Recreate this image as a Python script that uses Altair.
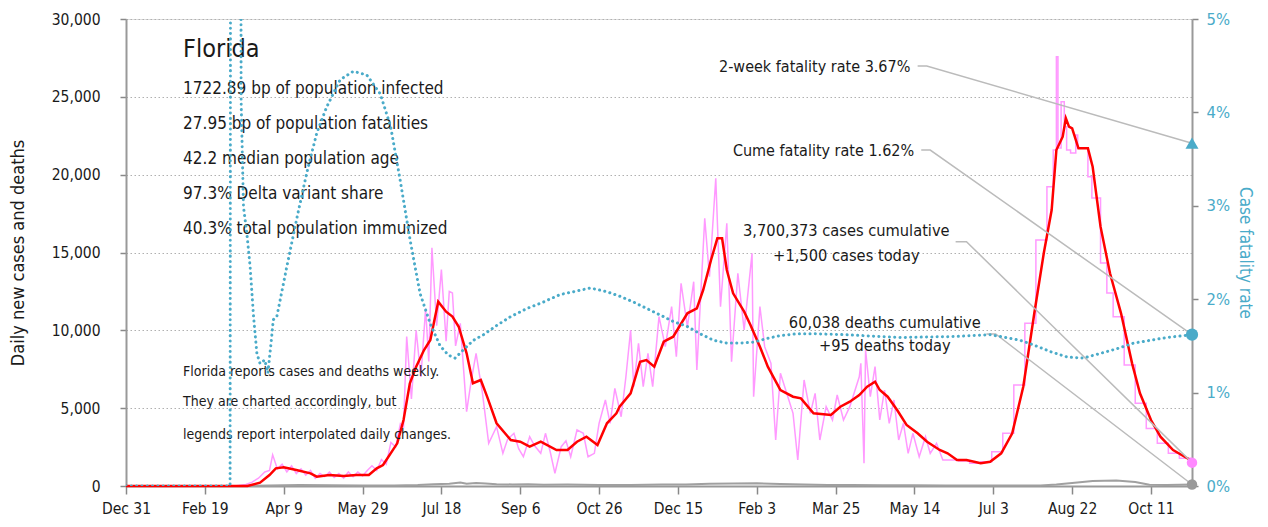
import altair as alt
import pandas as pd

BASE = pd.Timestamp("2019-12-31")
FONT = "'DejaVu Sans Condensed', 'DejaVu Sans', sans-serif"
PINK = "#ff99ff"
RED = "#ff0000"
GRAY = "#a0a0a0"
CYAN = "#4aabc9"

# ---- x axis ticks (every 50 days) ----
tick_dates = [(2019, 12, 31), (2020, 2, 19), (2020, 4, 9), (2020, 5, 29), (2020, 7, 18),
              (2020, 9, 6), (2020, 10, 26), (2020, 12, 15), (2021, 2, 3), (2021, 3, 25),
              (2021, 5, 14), (2021, 7, 3), (2021, 8, 22), (2021, 10, 11)]
end_date = (2021, 11, 6)
END_DAY = 676

# ---- 7-day average new cases (day offset from Dec 31 2019, value) ----
red_day = [0, 61, 77, 85, 91, 95, 100, 108, 117, 121, 129, 138, 146, 154, 159, 163, 172, 176, 180, 184,
           189, 193, 198, 203, 207, 211, 216, 220, 225, 229, 235, 244, 250, 256, 263, 273, 280, 286, 292, 299,
           305, 311, 313, 320, 326, 330, 335, 341, 347, 356, 362, 366, 371, 375, 378, 381, 385, 392, 396, 402,
           407, 415, 423, 428, 436, 447, 453, 459, 465, 470, 475, 478, 483, 489, 495, 502, 508, 516, 521, 527,
           533, 542, 548, 555, 562, 569, 576, 582, 587, 590, 594, 596, 598, 600, 604, 610, 613, 618, 624, 631,
           638, 643, 650, 656, 664, 673, 676]
red_val = [0, 0, 0, 212, 706, 1135, 1200, 1028, 814, 600, 706, 640, 706, 706, 1135, 1350, 2740, 4240, 6600, 7665,
           8737, 9380, 11840, 11200, 10880, 10230, 8525, 6600, 6810, 5740, 4030, 2955, 2846, 2525, 2846, 2313, 2313, 2846, 3167, 2634,
           4028, 4670, 5095, 5955, 7985, 8094, 7665, 9270, 9590, 11094, 11415, 12590, 14518, 15910, 15910, 13875, 12380, 11197, 10342, 8950,
           7665, 6167, 5737, 5630, 4670, 4560, 5095, 5415, 5845, 6380, 6700, 6167, 5737, 4880, 3920, 3385, 2846, 2313, 2100, 1670,
           1670, 1460, 1560, 2100, 3385, 6380, 11094, 14950, 17730, 21585, 22440, 23620, 23080, 22980, 21690, 21690, 20510, 16660, 13665, 11094,
           7880, 5955, 4240, 3167, 2313, 1780, 1600]

# ---- daily new cases, daily reporting period ----
pink_daily = [(0, 0), (61, 0), (70, 20), (76, 100), (80, 250), (84, 500), (88, 900), (91, 1000), (93, 2000), (96, 1100),
              (99, 1400), (102, 900), (105, 1300), (108, 800), (111, 1100), (114, 700), (117, 1000), (120, 500), (123, 800),
              (126, 600), (129, 900), (132, 550), (135, 800), (138, 500), (141, 900), (144, 600), (147, 900), (150, 650),
              (153, 1000), (156, 1300), (159, 1000), (162, 1700), (165, 1400), (168, 2800), (171, 2500), (174, 4000),
              (176, 3800), (178, 9600), (181, 5600), (184, 10000), (187, 7000), (190, 11400), (192, 8000), (194, 15300),
              (197, 10300), (200, 13900), (203, 9300), (205, 12500), (207, 12400), (209, 9000), (212, 10450), (216, 4775),
              (219, 6810), (222, 8525), (226, 6000), (230, 2740), (235, 3810), (239, 2100), (242, 3000), (246, 3385),
              (249, 2400), (252, 1880), (256, 3167), (259, 2600), (263, 2100), (266, 3385), (269, 2200), (272, 816),
              (276, 2525), (279, 2900), (282, 1880), (286, 3600), (290, 3385), (293, 1880), (297, 2100), (300, 4028),
              (304, 5525), (307, 4028), (310, 6275), (314, 4450), (317, 7000), (320, 10020), (322, 6380), (325, 9165),
              (328, 6380), (331, 8525), (334, 6380), (338, 10880), (342, 8950), (346, 11520), (349, 8300), (352, 13020),
              (356, 10230), (360, 13125), (362, 7450), (367, 17200), (370, 13445), (374, 19770), (377, 11520), (381, 16875),
              (384, 7985), (388, 13665), (392, 10020), (397, 14950), (398, 5737), (402, 11520), (405, 8950), (409, 7880),
              (412, 2955), (415, 7240), (419, 5955), (423, 4670), (426, 1670), (430, 6810), (434, 4670), (437, 5955),
              (440, 2955), (444, 5095), (448, 4240), (451, 5845), (455, 4240), (459, 5095), (465, 7020), (466, 7880),
              (468, 1460), (469, 8737), (472, 5737), (475, 7665), (478, 4240), (481, 6167), (484, 4028), (487, 5525),
              (490, 2955), (493, 4028), (496, 2100), (499, 3385), (503, 1880), (507, 3167), (510, 2100), (514, 2740),
              (518, 1670), (520, 1670)]

# ---- daily new cases, weekly reporting period (steps) ----
pink_weekly = [(520, 1670), (528, 1600), (535, 1460), (542, 1560), (549, 2200), (556, 3385), (563, 6490),
               (570, 10450), (577, 15800), (584, 19230), (588, 21585), (590, 27580), (591, 21710), (593, 24690),
               (595, 23080), (596.5, 21585), (599, 21390), (602.3, 22550), (603.5, 21710), (610, 19870),
               (612.5, 18500), (618, 14325), (622, 12400), (626, 10880), (633, 7773), (640, 5310), (647, 3700),
               (654, 2740), (661, 2100), (668, 1780), (675, 1500), (676, 1500)]

# ---- daily deaths ----
deaths = [(0, 0), (70, 0), (90, 30), (110, 60), (130, 45), (150, 40), (170, 40), (185, 70), (195, 120), (205, 150),
          (212, 230), (216, 140), (222, 200), (228, 160), (235, 120), (245, 100), (255, 110), (265, 80), (280, 90),
          (300, 60), (320, 70), (340, 90), (355, 100), (370, 140), (385, 160), (400, 170), (415, 130), (430, 100),
          (445, 70), (460, 60), (480, 55), (500, 45), (520, 40), (540, 35), (560, 40), (580, 40), (590, 90),
          (600, 190), (613, 320), (628, 360), (640, 250), (649, 80), (660, 70), (676, 95)]

# ---- case fatality rate, percent ----
cfr = [(0, 0), (66, 0), (67, 20), (72, 20), (73, 4.13), (74.5, 2.99), (76.6, 2.71), (78.7, 2.35), (80.9, 1.81),
       (83, 1.42), (85, 1.31), (88, 1.35), (90, 1.21), (92.4, 1.60), (93.4, 1.78), (95.6, 1.81), (102, 2.35),
       (108.5, 2.88), (114.6, 3.35), (121, 3.78), (127.3, 4.06), (135.8, 4.35), (144.2, 4.44), (152.7, 4.40),
       (161.2, 4.20), (167.8, 3.85), (173.8, 3.28), (180.2, 2.63), (186.5, 2.06), (192.9, 1.74), (199.2, 1.50),
       (204.5, 1.40), (208.7, 1.37), (214, 1.46), (220.3, 1.56), (226.7, 1.62), (235.2, 1.72), (243.6, 1.81),
       (254.2, 1.90), (264.7, 1.97), (275.3, 2.05), (283.8, 2.08), (294.4, 2.12), (305, 2.08), (313.4, 2.03),
       (321.8, 1.97), (330.3, 1.90), (338.8, 1.83), (347.2, 1.76), (355.7, 1.71), (364.1, 1.63), (372.6, 1.56),
       (381.1, 1.53), (389.5, 1.53), (398, 1.54), (406.5, 1.58), (414.9, 1.61), (425.5, 1.63), (436, 1.63),
       (456, 1.62), (490, 1.59), (525, 1.60), (548, 1.62), (554.5, 1.60), (567, 1.56), (575.6, 1.51), (586, 1.44),
       (597, 1.38), (607, 1.37), (618, 1.42), (628.5, 1.47), (639, 1.53), (649.6, 1.56), (660, 1.59), (676, 1.62)]

# ---- latest values ----
cases_today = 1500
deaths_today = 95
cfr_two_week = 3.67
cfr_cume = 1.62

# ---- text ----
state_name = "Florida"
info_lines = ["1722.89 bp of population infected", "27.95 bp of population fatalities",
              "42.2 median population age", "97.3% Delta variant share", "40.3% total population immunized"]
info_y = [25484, 23255, 20987, 18758, 16490]
note_lines = ["Florida reports cases and deaths weekly.", "They are charted accordingly, but",
              "legends report interpolated daily changes."]
note_y = [7343, 5377, 3276]
text_day = 36.2

rate_labels = ["2-week fatality rate 3.67%", "Cume fatality rate 1.62%"]
rate_label_day = [497.4, 499.8]
rate_label_y = [4.489, 3.587]
count_labels = ["3,700,373 cases cumulative", "+1,500 cases today", "60,038 deaths cumulative", "+95 deaths today"]
count_label_day = [456.8, 456.8, 481.2, 481.2]
count_label_y = [16401, 14775, 10490, 8994]
# connectors: (id, day, y)
rate_conn = [(1, 502, 4.497), (1, 507.8, 4.497), (1, END_DAY, cfr_two_week),
             (2, 504.3, 3.597), (2, 510, 3.597), (2, END_DAY, cfr_cume)]
count_conn = [(3, 526.1, 15694), (3, 533, 15694), (3, END_DAY, cases_today),
              (4, 545.6, 9764), (4, 551.5, 9764), (4, END_DAY, deaths_today)]


def ds(days):
    return [(BASE + pd.Timedelta(days=float(d))).strftime("%Y-%m-%dT%H:%M:%S") for d in days]


def frame(pairs):
    return pd.DataFrame({"date": ds([p[0] for p in pairs]), "v": [p[1] for p in pairs]})


red_df = pd.DataFrame({"date": ds(red_day), "v": red_val})
pink_d_df = frame(pink_daily)
pink_w_df = frame(pink_weekly)
death_df = frame(deaths)
cfr_df = pd.DataFrame({"date": ds([p[0] for p in cfr]), "r": [p[1] for p in cfr]})

end_left = pd.DataFrame({"date": ds([END_DAY, END_DAY]), "v": [cases_today, deaths_today], "k": ["c", "d"]})
end_right = pd.DataFrame({"date": ds([END_DAY, END_DAY]), "r": [cfr_two_week, cfr_cume], "k": ["t", "c"]})

info_df = pd.DataFrame({"date": ds([text_day] * 6), "v": [28073] + info_y,
                        "t": [state_name] + info_lines, "fs": [25] + [17] * 5})
note_df = pd.DataFrame({"date": ds([text_day] * 3), "v": note_y, "t": note_lines})
rate_lab_df = pd.DataFrame({"date": ds(rate_label_day), "r": rate_label_y, "t": rate_labels})
count_lab_df = pd.DataFrame({"date": ds(count_label_day), "v": count_label_y, "t": count_labels})
rate_conn_df = pd.DataFrame({"id": [c[0] for c in rate_conn], "o": list(range(len(rate_conn))),
                             "date": ds([c[1] for c in rate_conn]), "r": [c[2] for c in rate_conn]})
count_conn_df = pd.DataFrame({"id": [c[0] for c in count_conn], "o": list(range(len(count_conn))),
                              "date": ds([c[1] for c in count_conn]), "v": [c[2] for c in count_conn]})

# ---- encodings ----
x_axis = alt.Axis(values=[alt.DateTime(year=y, month=m, date=d) for (y, m, d) in tick_dates],
                  format="%b %-d", labelFont=FONT, labelFontSize=15.5, labelColor="#1a1a1a",
                  tickSize=8, tickColor="#888888", tickWidth=1.5, domainColor="#999999", domainWidth=2,
                  grid=False, title=None, labelPadding=7, labelOverlap=False, labelFlush=False)
X = alt.X("date:T",
          scale=alt.Scale(domain=[alt.DateTime(year=2019, month=12, date=31),
                                  alt.DateTime(year=end_date[0], month=end_date[1], date=end_date[2])]),
          axis=x_axis)

left_axis = alt.Axis(values=list(range(0, 30001, 5000)), labelExpr="format(datum.value, ',')",
                     labelFont=FONT, labelFontSize=15.5,
                     labelColor="#1a1a1a", tickSize=6, tickColor="#888888", tickWidth=1.5, labelPadding=20,
                     domainColor="#999999", domainWidth=2, grid=True, gridDash=[1.5, 2.5], gridColor="#b0b0b0",
                     gridWidth=1, title="Daily new cases and deaths", titleFont=FONT, titleFontSize=18,
                     titleFontWeight="normal", titleColor="#1a1a1a", titlePadding=24)
YL = alt.Y("v:Q", scale=alt.Scale(domain=[0, 30000], nice=False), axis=left_axis)

right_axis = alt.Axis(orient="right", values=[0, 1, 2, 3, 4, 5], labelExpr="datum.value + '%'",
                      labelFont=FONT, labelFontSize=16.5, labelColor=CYAN, tickSize=6, tickColor="#888888",
                      tickWidth=1.5, labelPadding=8, domainColor="#999999", domainWidth=2, grid=False,
                      title="Case fatality rate", titleFont=FONT, titleFontSize=17, titleFontWeight="normal",
                      titleColor=CYAN, titlePadding=6)
YR = alt.Y("r:Q", scale=alt.Scale(domain=[0, 5], nice=False), axis=right_axis)

# ---- left (cases) layers ----
pink_d = alt.Chart(pink_d_df).mark_line(color=PINK, strokeWidth=1.5).encode(x=X, y=YL)
pink_w = alt.Chart(pink_w_df).mark_line(color=PINK, strokeWidth=1.5, interpolate="step-after").encode(x=X, y=YL)
death_line = alt.Chart(death_df).mark_line(color=GRAY, strokeWidth=2).encode(x=X, y=YL)
red_line = alt.Chart(red_df).mark_line(color=RED, strokeWidth=2.5).encode(x=X, y=YL)
count_conn_l = alt.Chart(count_conn_df).mark_line(color="#bbbbbb", strokeWidth=1.5).encode(
    x=X, y=YL, detail="id:N", order="o:Q")
end_dots = alt.Chart(end_left).mark_point(filled=True, opacity=1, size=110).encode(
    x=X, y=YL, color=alt.Color("k:N", scale=alt.Scale(domain=["c", "d"], range=["#ff88ff", "#999999"]), legend=None))
info_text = alt.Chart(info_df).mark_text(align="left", baseline="middle", font=FONT, color="#1a1a1a").encode(
    x=X, y=YL, text="t:N", size=alt.Size("fs:Q", scale=None, legend=None))
note_text = alt.Chart(note_df).mark_text(align="left", baseline="middle", font=FONT, fontSize=14,
                                         color="#1a1a1a").encode(x=X, y=YL, text="t:N")
count_text = alt.Chart(count_lab_df).mark_text(align="center", baseline="middle", font=FONT, fontSize=16.3,
                                               color="#1a1a1a").encode(x=X, y=YL, text="t:N")

left = alt.layer(pink_d, pink_w, death_line, red_line, count_conn_l, end_dots, info_text, note_text, count_text)

# ---- right (fatality rate) layers ----
cfr_line = alt.Chart(cfr_df).mark_line(color=CYAN, strokeWidth=3, strokeDash=[0.1, 5.2], strokeCap="round",
                                       clip=True).encode(x=X, y=YR)
rate_conn_l = alt.Chart(rate_conn_df).mark_line(color="#bbbbbb", strokeWidth=1.5).encode(
    x=X, y=YR, detail="id:N", order="o:Q")
end_marks = alt.Chart(end_right).mark_point(filled=True, opacity=1, color=CYAN).encode(
    x=X, y=YR,
    shape=alt.Shape("k:N", scale=alt.Scale(domain=["t", "c"], range=["triangle-up", "circle"]), legend=None),
    size=alt.Size("k:N", scale=alt.Scale(domain=["t", "c"], range=[170, 150]), legend=None))
rate_text = alt.Chart(rate_lab_df).mark_text(align="right", baseline="middle", font=FONT, fontSize=16,
                                             color="#1a1a1a").encode(x=X, y=YR, text="t:N")

right = alt.layer(cfr_line, rate_conn_l, end_marks, rate_text)

chart = alt.layer(left, right).resolve_scale(y="independent").properties(
    width=1066, height=467,
    autosize=alt.AutoSizeParams(type="none"),
    padding={"left": 118, "top": 11, "right": 68, "bottom": 38},
).configure_view(stroke=None).configure(background="white")

chart.save("out.html", embed_options={"renderer": "svg", "actions": False})
